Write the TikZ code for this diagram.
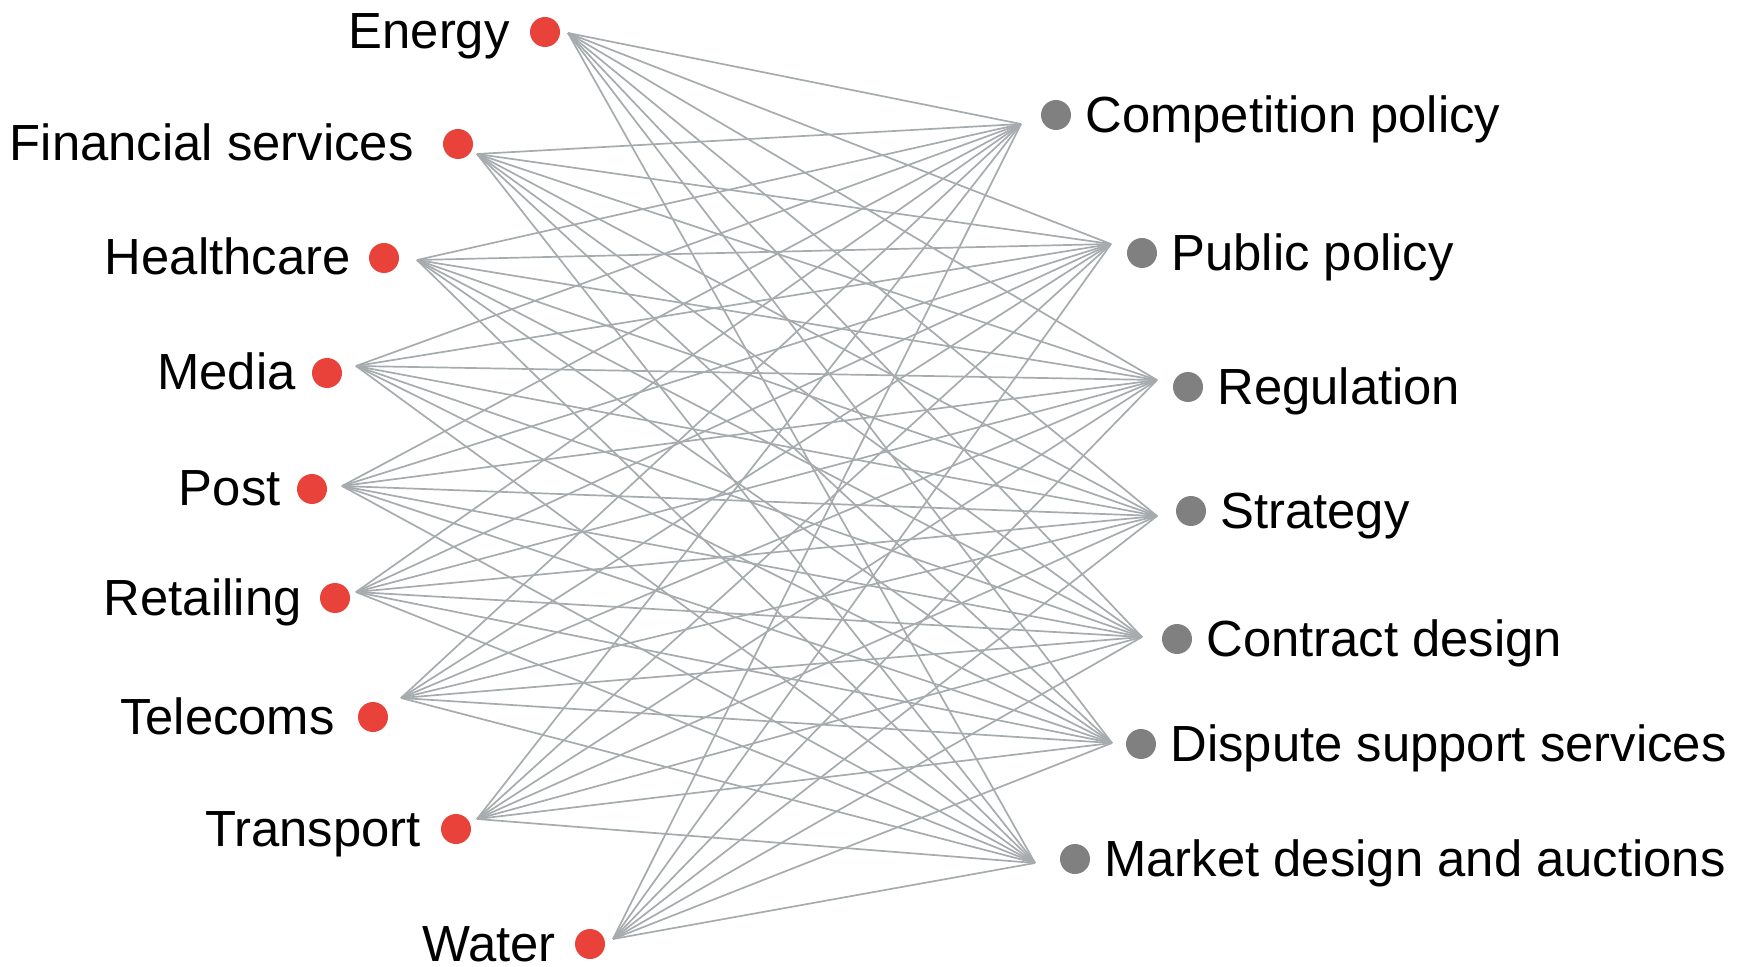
\documentclass[tikz,border=0pt]{standalone}
\usepackage{fontspec}
\setmainfont{Liberation Sans}
\definecolor{sectorred}{HTML}{E8423A}
\definecolor{servicegray}{HTML}{808080}
\definecolor{edgegray}{HTML}{A6ABAE}
\begin{document}
\begin{tikzpicture}[x=0.5pt,y=-0.5pt,
  sector/.style={circle, fill=sectorred, minimum size=15pt, inner sep=0pt},
  service/.style={circle, fill=servicegray, minimum size=15pt, inner sep=0pt},
  lab/.style={font=\fontsize{25.4}{30}\selectfont, inner sep=0pt, text=black},
  link/.style={draw=edgegray, line width=0.85pt}]
\useasboundingbox (0,0) rectangle (1744,967);
% left sectors: name/dot x/dot y/line x/line y/text right/label
\foreach \n/\dx/\dy/\lx/\ly/\tx/\t in {
  L1/545/32/568/33/510/Energy,
  L2/458/144/477/154/414/Financial services,
  L3/384/258/417/260/351/Healthcare,
  L4/327/373/356/366/296/Media,
  L5/312/489/342/486/281/Post,
  L6/335/598/356/592/302/Retailing,
  L7/373/717/401/698/335/Telecoms,
  L8/456/829/477/819/421/Transport,
  L9/590/944/613/939/556/Water}{
  \node[sector] (\n dot) at (\dx,\dy) {};
  \coordinate (\n) at (\lx,\ly);
  \node[lab, anchor=base east] (\n lab) at (\tx,\dy+17) {\t};
}
% right services
\foreach \n/\dx/\dy/\lx/\ly/\t in {
  R1/1056/115/1021/124/Competition policy,
  R2/1142/253/1111/244/Public policy,
  R3/1188/387/1157/380/Regulation,
  R4/1191/511/1157/516/Strategy,
  R5/1177/639/1142/637/Contract design,
  R6/1141/744/1112/743/Dispute support services,
  R7/1075/859/1035/863/Market design and auctions}{
  \node[service] (\n dot) at (\dx,\dy) {};
  \coordinate (\n) at (\lx,\ly);
  \node[lab, anchor=base west] (\n lab) at (\dx+29,\dy+17.5) {\t};
}
\foreach \a in {L1,L2,L3,L4,L5,L6,L7,L8,L9}{
  \foreach \b in {R1,R2,R3,R4,R5,R6,R7}{
    \draw[link] (\a) -- (\b);
  }
}
\end{tikzpicture}
\end{document}
